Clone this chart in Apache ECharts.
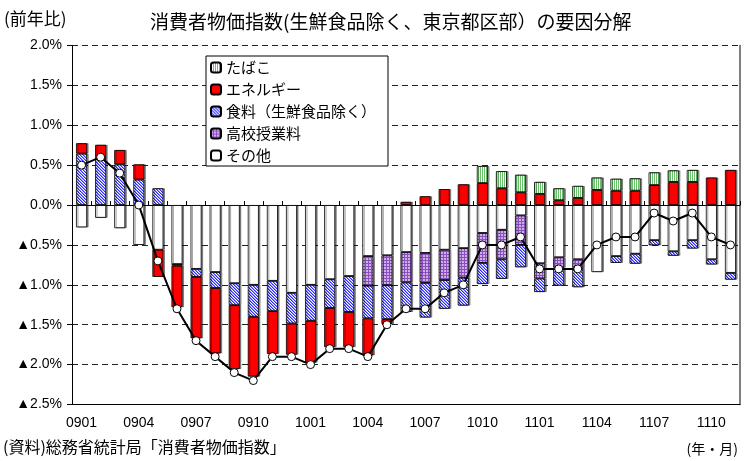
<!DOCTYPE html>
<html><head><meta charset="utf-8">
<script src="https://cdn.jsdelivr.net/npm/echarts@6/dist/echarts.min.js"></script>
<style>html,body{margin:0;padding:0;background:#fff}#c{width:748px;height:461px}</style>
</head><body><div id="c"></div>
<script>
// ---- data ----
const months = ['0901','0902','0903','0904','0905','0906','0907','0908','0909','0910','0911','0912',
  '1001','1002','1003','1004','1005','1006','1007','1008','1009','1010','1011','1012',
  '1101','1102','1103','1104','1105','1106','1107','1108','1109','1110','1111'];
const other = [-0.28,-0.16,-0.29,-0.50,-0.56,-0.74,-0.80,-0.84,-0.98,-1.00,-0.95,-1.10,
  -1.00,-0.93,-0.89,-0.64,-0.63,-0.59,-0.60,-0.56,-0.54,-0.35,-0.31,-0.13,
  -0.73,-0.655,-0.68,-0.84,-0.64,-0.61,-0.44,-0.58,-0.44,-0.68,-0.85];
const tuition = [null,null,null,null,null,null,null,null,null,null,null,null,
  null,null,null,-0.37,-0.375,-0.38,-0.375,-0.38,-0.37,-0.375,-0.37,-0.37,
  -0.19,-0.13,-0.11,null,null,null,null,null,null,null,null];
const food = [0.645,0.575,0.51,0.32,0.21,-0.02,-0.10,-0.20,-0.275,-0.40,-0.38,-0.385,
  -0.45,-0.36,-0.45,-0.41,-0.425,-0.37,-0.435,-0.36,-0.35,-0.265,-0.245,-0.28,
  -0.17,-0.225,-0.24,null,-0.085,-0.125,-0.065,-0.055,-0.105,-0.065,-0.085];
const energy = [0.13,0.18,0.18,0.19,-0.34,-0.52,-0.77,-0.82,-0.80,-0.75,-0.535,-0.39,
  -0.525,-0.49,-0.44,-0.465,-0.06,0.04,0.11,0.20,0.26,0.275,0.21,0.16,
  0.14,0.06,0.09,0.19,0.18,0.18,0.25,0.29,0.29,0.345,0.44];
const tobacco = [null,null,null,null,null,null,null,null,null,null,null,null,
  null,null,null,null,null,null,null,null,null,0.215,0.215,0.22,
  0.15,0.15,0.15,0.155,0.15,0.155,0.16,0.145,0.15,null,null];
const total = [0.5,0.6,0.4,0.0,-0.7,-1.3,-1.7,-1.9,-2.1,-2.2,-1.9,-1.9,
  -2.0,-1.8,-1.8,-1.9,-1.5,-1.3,-1.3,-1.1,-1.0,-0.5,-0.5,-0.4,
  -0.8,-0.8,-0.8,-0.5,-0.4,-0.4,-0.1,-0.2,-0.1,-0.4,-0.5];
const names = ['たばこ','エネルギー','食料（生鮮食品除く）','高校授業料','その他'];

// ---- patterns ----
function pat(w,h,fn){
  const c=document.createElement('canvas');c.width=w;c.height=h;
  const g=c.getContext('2d');
  for(let y=0;y<h;y++)for(let x=0;x<w;x++){g.fillStyle=fn(x,y);g.fillRect(x,y,1,1);}
  return {image:c,repeat:'repeat'};
}
const foodCols = ['#2a2aff','#9090ff','#ffffff'];
const foodPat = pat(3,3,(x,y)=>foodCols[(x-y+6)%3]);
const tobPat = pat(2,1,(x)=>x===0?'#6cbf6c':'#ffffff');
const tuiPat = pat(3,3,(x,y)=>(x===2||y===2)?'#8a4fbf':'#cfaeea');

const numFont = '"Liberation Sans Narrow","Liberation Sans",Arial,sans-serif';
const jpFont = '"Noto Sans CJK JP","Noto Sans CJK SC",sans-serif';
const bs = {borderColor:'#000',borderWidth:0.8,shadowColor:'rgba(0,0,0,0.45)',shadowOffsetX:1.5,shadowOffsetY:0,shadowBlur:0};

function barSeries(name,data,color){
  return {name,type:'bar',stack:'s',data,barWidth:11,
    itemStyle:Object.assign({color},bs),emphasis:{disabled:true}};
}

const chart = echarts.init(document.getElementById('c'),null,{renderer:'canvas'});
chart.setOption({
  animation:false,
  backgroundColor:'#fff',
  title:{text:'消費者物価指数(生鮮食品除く、東京都区部）の要因分解',left:145,top:7,
    textStyle:{fontSize:19,fontWeight:'normal',color:'#000',fontFamily:jpFont}},
  graphic:[
    {type:'text',left:4,top:10,style:{text:'(前年比)',fontSize:17,fill:'#000',fontFamily:jpFont}},
    {type:'text',left:3,top:439,style:{text:'(資料)総務省統計局「消費者物価指数」',fontSize:16,fill:'#000',fontFamily:jpFont}},
    {type:'text',right:10,top:442,style:{text:'(年・月)',fontSize:14,fill:'#000',fontFamily:jpFont}}
  ],
  legend:{data:names,orient:'vertical',left:206,top:56,selectedMode:false,
    backgroundColor:'#fff',borderColor:'#000',borderWidth:1,padding:[4,12,3,4],
    itemWidth:10,itemHeight:10,itemGap:7,
    textStyle:{fontSize:15,color:'#000',fontFamily:jpFont}},
  grid:{left:72,right:8,top:45.5,bottom:56.5,containLabel:false},
  xAxis:[{
    type:'category',data:months,position:'bottom',
    axisLine:{show:true,onZero:false,lineStyle:{color:'#000',width:1}},
    axisTick:{show:false},
    axisLabel:{interval:2,fontSize:14,margin:12,color:'#000',fontFamily:numFont},
    splitLine:{show:false}
  },{
    type:'category',data:months,position:'bottom',
    axisLine:{show:true,onZero:true,lineStyle:{color:'#000',width:1.2}},
    axisTick:{show:true,inside:true,length:4,interval:0,lineStyle:{color:'#000'}},
    axisLabel:{show:false},splitLine:{show:false}
  }],
  yAxis:[{
    type:'value',min:-2.5,max:2.0,interval:0.5,
    axisLine:{show:true,lineStyle:{color:'#000',width:1}},
    axisTick:{show:true,length:5,lineStyle:{color:'#000'}},
    axisLabel:{margin:10,fontSize:14,color:'#000',fontFamily:numFont,
      formatter:v=>(v<0?'▲'+Math.abs(v).toFixed(1):v.toFixed(1))+'%'},
    splitLine:{show:true,lineStyle:{color:'#222',type:[6,4],width:1}}
  },{
    type:'value',min:-2.5,max:2.0,interval:0.5,position:'right',
    axisLine:{show:true,lineStyle:{color:'#555',width:1.5}},
    axisTick:{show:false},axisLabel:{show:false},splitLine:{show:false}
  }],
  series:[
    barSeries('その他',other,'#ffffff'),
    barSeries('高校授業料',tuition,tuiPat),
    barSeries('食料（生鮮食品除く）',food,foodPat),
    barSeries('エネルギー',energy,'#ff0000'),
    barSeries('たばこ',tobacco,tobPat),
    {name:'総合',type:'line',data:total,z:5,symbol:'circle',symbolSize:8,
      lineStyle:{color:'#000',width:2},
      itemStyle:{color:'#fff',borderColor:'#000',borderWidth:1},
      emphasis:{disabled:true}}
  ]
});
</script></body></html>
